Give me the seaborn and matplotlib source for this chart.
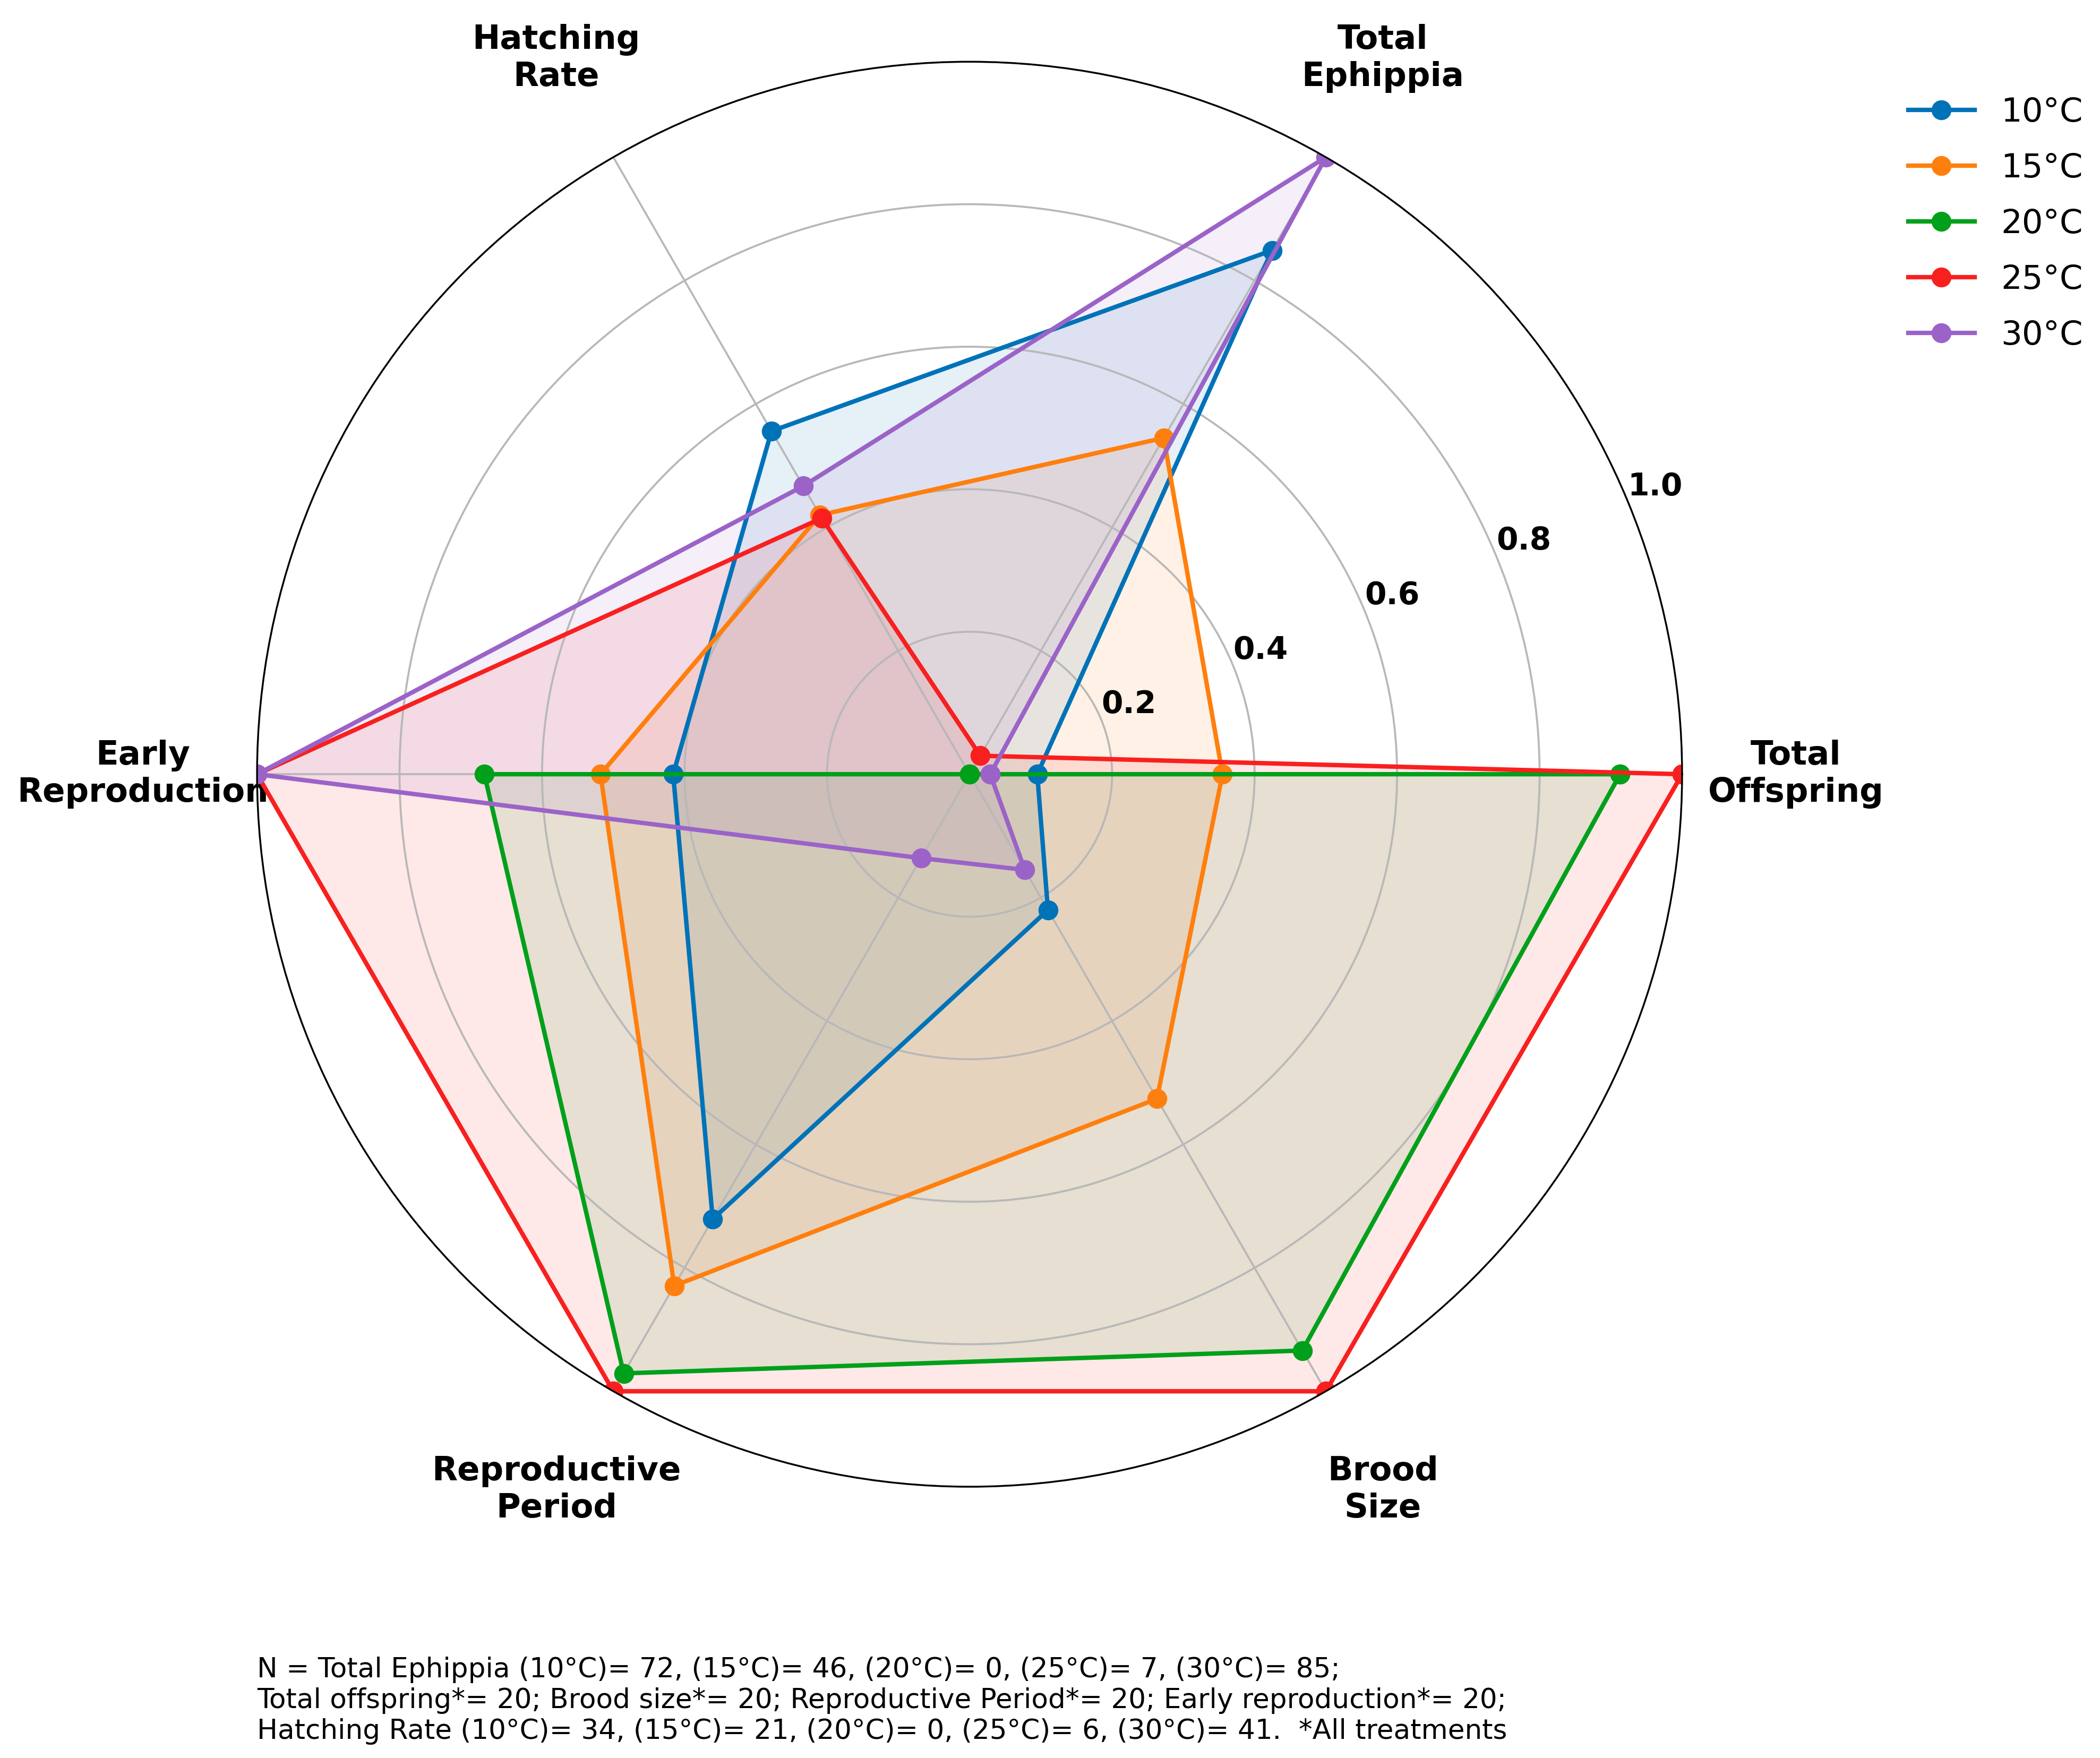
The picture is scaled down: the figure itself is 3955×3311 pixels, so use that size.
import numpy as np
import pandas as pd
import matplotlib
matplotlib.use("Agg")
import matplotlib.pyplot as plt
import seaborn as sns

# data (normalised 0-1 per trait)
categories = ['Total\nOffspring', 'Total\nEphippia', 'Hatching\nRate',
              'Early\nReproduction', 'Reproductive\nPeriod', 'Brood\nSize']
temps = ['10°C', '15°C', '20°C', '25°C', '30°C']
vals_10 = [0.095, 0.849, 0.556, 0.416, 0.721, 0.22]
vals_15 = [0.355, 0.545, 0.42, 0.518, 0.829, 0.526]
vals_20 = [0.913, 0.0, 0.0, 0.681, 0.971, 0.934]
vals_25 = [1.0, 0.03, 0.415, 1.0, 1.0, 1.0]
vals_30 = [0.029, 1.0, 0.467, 1.0, 0.136, 0.155]
colors = ['#0072B8', '#FF7F0E', '#00A01A', '#F8201F', '#9B63C8']
rticks = [0.2, 0.4, 0.6, 0.8, 1.0]

caption = ("N = Total Ephippia (10°C)= 72, (15°C)= 46, (20°C)= 0, (25°C)= 7, (30°C)= 85;\n"
           "Total offspring*= 20; Brood size*= 20; Reproductive Period*= 20; Early reproduction*= 20;\n"
           "Hatching Rate (10°C)= 34, (15°C)= 21, (20°C)= 0, (25°C)= 6, (30°C)= 41.  *All treatments")

all_vals = [vals_10, vals_15, vals_20, vals_25, vals_30]
n = len(categories)
angles = np.linspace(0, 2 * np.pi, n, endpoint=False)
angles_closed = np.concatenate([angles, [2 * np.pi]])

# long form table for seaborn
rows = []
for t, v in zip(temps, all_vals):
    closed = list(v) + [v[0]]
    for a, r in zip(angles_closed, closed):
        rows.append({'angle': a, 'value': r, 'temp': t})
df = pd.DataFrame(rows)

fig = plt.figure(figsize=(3955 / 300, 3311 / 300), dpi=300)
ax = fig.add_axes([0.1224, 0.1543, 0.6786, 0.8106], projection='polar')

# fills first so lines sit on top
for t, c in zip(temps, colors):
    sub = df[df['temp'] == t]
    ax.fill(sub['angle'], sub['value'], color=c, alpha=0.1, zorder=1)

sns.lineplot(data=df, x='angle', y='value', hue='temp', hue_order=temps,
             palette=colors, sort=False, estimator=None, marker='o',
             markersize=9, markeredgewidth=0, linewidth=2.0, ax=ax)

ax.set_xlabel('')
ax.set_ylabel('')
ax.set_ylim(0, 1)
ax.set_xticks(angles)
ax.set_xticklabels(categories, fontsize=15, fontweight='bold')
ax.tick_params(axis='x', pad=41)
ax.set_yticks(rticks)
ax.set_yticklabels([f'{r:.1f}' for r in rticks], fontsize=14, fontweight='bold')
ax.set_rlabel_position(22.5)
ax.grid(True, color='#b8b8b8', linewidth=0.9)

sns.move_legend(ax, 'upper left', bbox_to_anchor=(1.1376, 0.9966),
                frameon=False, title=None, fontsize=15, labelspacing=0.72)

fig.text(0.1224, 0.0327, caption, ha='left', va='center', fontsize=12.4)

fig.savefig('out.png', dpi=300)
